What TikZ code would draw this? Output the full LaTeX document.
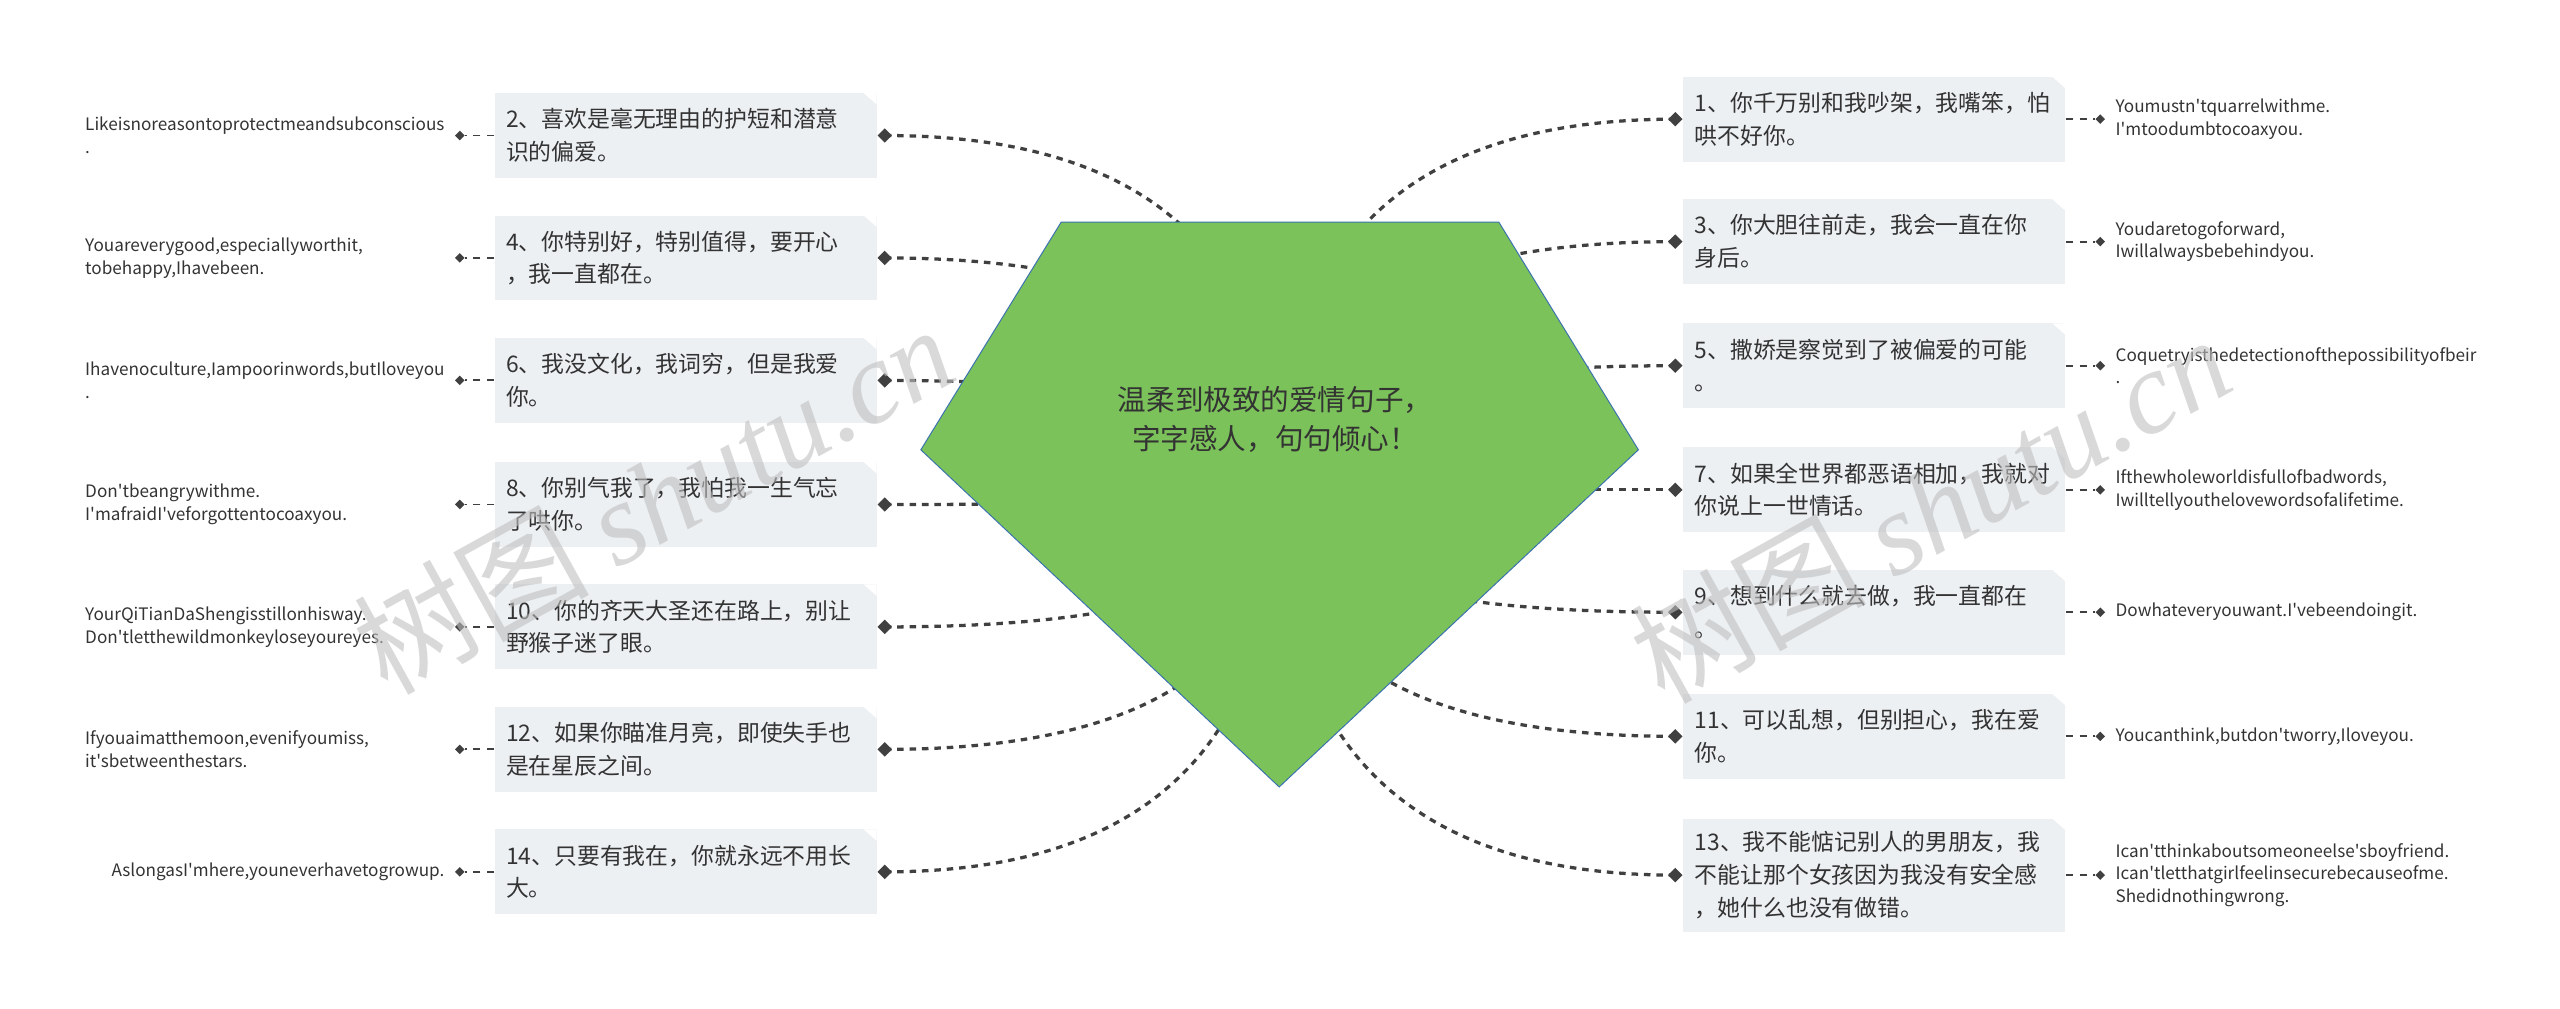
\documentclass[tikz,border=0pt]{standalone}
\usepackage{fontspec}
\setmainfont{Noto Sans CJK SC}
\newfontfamily\leaffont{Noto Sans CJK SC}
\newfontfamily\markfont{Liberation Serif}
\usepackage{xcolor}
\usepackage{tikz}
\usetikzlibrary{positioning, shapes.geometric, backgrounds, calc}

\definecolor{boxfill}{HTML}{EDF0F3}
\definecolor{ink}{HTML}{333333}
\definecolor{linkgray}{HTML}{404040}
\definecolor{rootgreen}{HTML}{7BC25A}
\definecolor{rootedge}{HTML}{3A72B0}

\begin{document}
\begin{tikzpicture}[
    x=1pt, y=1pt,
    node distance=4pt and 4pt,
    topic/.style={fill=boxfill, text=ink, align=left, text width=220pt, inner xsep=7pt, inner ysep=8pt, minimum height=52pt, font=\fontsize{14}{20}\selectfont,
        path picture={\fill[white] (path picture bounding box.north east) -- ++(-8pt,0) -- ++(8pt,-7pt) -- cycle;}},
    hubdot/.style={diamond, fill=linkgray, inner sep=0pt, minimum size=9pt},
    leafdot/.style={diamond, fill=linkgray, inner sep=0pt, minimum size=6pt},
    leaf/.style={font=\leaffont\fontsize{10.5}{14}\selectfont, text=ink, align=left, inner sep=2pt},
    leafwide/.style={leaf, text width=220pt},
    link/.style={draw=linkgray, line width=2pt, dash pattern=on 4pt off 3.6pt},
    leaflink/.style={draw=linkgray, line width=1.2pt, dash pattern=on 4.5pt off 4pt},
    hubcurve/.style={to path={.. controls ($(\tikztostart)!0.667!(\tikztostart -| \tikztotarget)$) and ($(\tikztotarget)!0.667!(\tikztostart -| \tikztotarget)$) .. (\tikztotarget)}},
    watermark/.style={rotate=29, text=gray!50, opacity=0.6, font=\fontsize{72}{72}\selectfont}
]
\useasboundingbox (0,0) rectangle (1568,-618);
% Root
\filldraw[fill=rootgreen, draw=rootedge, line width=0.6pt] (650,-136) -- (918,-136) -- (1003.5,-275.5) -- (783.5,-482) -- (564,-275.5) -- cycle;
\node[font=\fontsize{17.5}{24}\selectfont, text=ink, align=center] (root) at (781,-257) {温柔到极致的爱情句子，\\字字感人，句句倾心！};
\coordinate (hub) at (783,-300);
% --- Left branch ---
\node[topic] (t2) at (420,-83) {2、喜欢是毫无理由的护短和潜意\\识的偏爱。};
\node[hubdot, right=0pt of t2] (d2) {};
\node[leafdot, left=18pt of t2] (s2) {};
\node[leafwide, left=4pt of s2] (e2) {Likeisnoreasontoprotectmeandsubconscious\\.};
\node[topic] (t4) at (420,-158) {4、你特别好，特别值得，要开心\\，我一直都在。};
\node[hubdot, right=0pt of t4] (d4) {};
\node[leafdot, left=18pt of t4] (s4) {};
\node[leafwide, left=4pt of s4] (e4) {Youareverygood,especiallyworthit,\\tobehappy,Ihavebeen.};
\node[topic] (t6) at (420,-233) {6、我没文化，我词穷，但是我爱\\你。};
\node[hubdot, right=0pt of t6] (d6) {};
\node[leafdot, left=18pt of t6] (s6) {};
\node[leafwide, left=4pt of s6] (e6) {Ihavenoculture,Iampoorinwords,butIloveyou\\.};
\node[topic] (t8) at (420,-309) {8、你别气我了，我怕我一生气忘\\了哄你。};
\node[hubdot, right=0pt of t8] (d8) {};
\node[leafdot, left=18pt of t8] (s8) {};
\node[leafwide, left=4pt of s8] (e8) {Don'tbeangrywithme.\\I'mafraidI'veforgottentocoaxyou.};
\node[topic] (t10) at (420,-384) {10、你的齐天大圣还在路上，别让\\野猴子迷了眼。};
\node[hubdot, right=0pt of t10] (d10) {};
\node[leafdot, left=18pt of t10] (s10) {};
\node[leafwide, left=4pt of s10] (e10) {YourQiTianDaShengisstillonhisway.\\Don'tletthewildmonkeyloseyoureyes.};
\node[topic] (t12) at (420,-459) {12、如果你瞄准月亮，即使失手也\\是在星辰之间。};
\node[hubdot, right=0pt of t12] (d12) {};
\node[leafdot, left=18pt of t12] (s12) {};
\node[leafwide, left=4pt of s12] (e12) {Ifyouaimatthemoon,evenifyoumiss,\\it'sbetweenthestars.};
\node[topic] (t14) at (420,-534) {14、只要有我在，你就永远不用长\\大。};
\node[hubdot, right=0pt of t14] (d14) {};
\node[leafdot, left=18pt of t14] (s14) {};
\node[leaf, left=4pt of s14] (e14) {AslongasI'mhere,youneverhavetogrowup.};
% --- Right branch ---
\node[topic] (t1) at (1148,-73) {1、你千万别和我吵架，我嘴笨，怕\\哄不好你。};
\node[hubdot, left=0pt of t1] (d1) {};
\node[leafdot, right=18pt of t1] (s1) {};
\node[leaf, right=4pt of s1] (e1) {Youmustn'tquarrelwithme.\\I'mtoodumbtocoaxyou.};
\node[topic] (t3) at (1148,-148) {3、你大胆往前走，我会一直在你\\身后。};
\node[hubdot, left=0pt of t3] (d3) {};
\node[leafdot, right=18pt of t3] (s3) {};
\node[leaf, right=4pt of s3] (e3) {Youdaretogoforward,\\Iwillalwaysbebehindyou.};
\node[topic] (t5) at (1148,-224) {5、撒娇是察觉到了被偏爱的可能\\。};
\node[hubdot, left=0pt of t5] (d5) {};
\node[leafdot, right=18pt of t5] (s5) {};
\node[leaf, right=4pt of s5] (e5) {Coquetryisthedetectionofthepossibilityofbeir\\.};
\node[topic] (t7) at (1148,-300) {7、如果全世界都恶语相加，我就对\\你说上一世情话。};
\node[hubdot, left=0pt of t7] (d7) {};
\node[leafdot, right=18pt of t7] (s7) {};
\node[leaf, right=4pt of s7] (e7) {Ifthewholeworldisfullofbadwords,\\Iwilltellyouthelovewordsofalifetime.};
\node[topic] (t9) at (1148,-375) {9、想到什么就去做，我一直都在\\。};
\node[hubdot, left=0pt of t9] (d9) {};
\node[leafdot, right=18pt of t9] (s9) {};
\node[leaf, right=4pt of s9] (e9) {Dowhateveryouwant.I'vebeendoingit.};
\node[topic] (t11) at (1148,-451) {11、可以乱想，但别担心，我在爱\\你。};
\node[hubdot, left=0pt of t11] (d11) {};
\node[leafdot, right=18pt of t11] (s11) {};
\node[leaf, right=4pt of s11] (e11) {Youcanthink,butdon'tworry,Iloveyou.};
\node[topic] (t13) at (1148,-536) {13、我不能惦记别人的男朋友，我\\不能让那个女孩因为我没有安全感\\，她什么也没有做错。};
\node[hubdot, left=0pt of t13] (d13) {};
\node[leafdot, right=18pt of t13] (s13) {};
\node[leaf, right=4pt of s13] (e13) {Ican'tthinkaboutsomeoneelse'sboyfriend.\\Ican'tletthatgirlfeelinsecurebecauseofme.\\Shedidnothingwrong.};
% --- Connectors ---
\begin{scope}[on background layer]
\draw[link] (d1.center) to[hubcurve] (hub);
\draw[link] (d2.center) to[hubcurve] (hub);
\draw[link] (d3.center) to[hubcurve] (hub);
\draw[link] (d4.center) to[hubcurve] (hub);
\draw[link] (d5.center) to[hubcurve] (hub);
\draw[link] (d6.center) to[hubcurve] (hub);
\draw[link] (d7.center) to[hubcurve] (hub);
\draw[link] (d8.center) to[hubcurve] (hub);
\draw[link] (d9.center) to[hubcurve] (hub);
\draw[link] (d10.center) to[hubcurve] (hub);
\draw[link] (d11.center) to[hubcurve] (hub);
\draw[link] (d12.center) to[hubcurve] (hub);
\draw[link] (d13.center) to[hubcurve] (hub);
\draw[link] (d14.center) to[hubcurve] (hub);
\draw[leaflink] (t1) -- (s1);
\draw[leaflink] (t2) -- (s2);
\draw[leaflink] (t3) -- (s3);
\draw[leaflink] (t4) -- (s4);
\draw[leaflink] (t5) -- (s5);
\draw[leaflink] (t6) -- (s6);
\draw[leaflink] (t7) -- (s7);
\draw[leaflink] (t8) -- (s8);
\draw[leaflink] (t9) -- (s9);
\draw[leaflink] (t10) -- (s10);
\draw[leaflink] (t11) -- (s11);
\draw[leaflink] (t12) -- (s12);
\draw[leaflink] (t13) -- (s13);
\draw[leaflink] (t14) -- (s14);
\end{scope}
% --- Watermark ---
\node[watermark] (mark1) at (400,-305) {树图 {\markfont\itshape shutu.cn}};
\node[watermark] (mark2) at (1182,-311) {树图 {\markfont\itshape shutu.cn}};
\end{tikzpicture}
\end{document}
